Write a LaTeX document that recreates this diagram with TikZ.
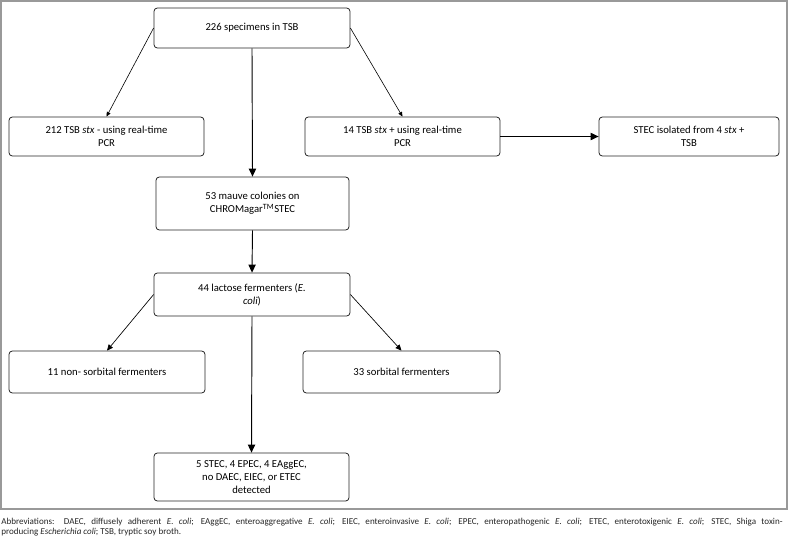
\documentclass[tikz,border=0pt]{standalone}
\usepackage{fontspec}
\setmainfont{Carlito}
\usetikzlibrary{arrows.meta}
\begin{document}
\begin{tikzpicture}[x=0.75pt,y=-0.75pt,
  box/.style={draw=black!85, line width=0.6pt, rounded corners=2.5pt, align=center,
    font=\fontsize{8}{10}\selectfont, inner sep=1pt},
  bigarrow/.style={line width=0.7pt, -{Triangle[length=6pt,width=5.5pt]}},
  smallarrow/.style={line width=0.45pt, -{Triangle[length=3.5pt,width=3pt]}},
  midarrow/.style={line width=0.5pt, -{Triangle[length=4.5pt,width=4pt]}},
  captxt/.style={anchor=base west, inner sep=0pt, font=\fontsize{6.8}{8}\selectfont, text=black!85}]
\useasboundingbox (0,0) rectangle (788,537);
\draw[black!40, line width=0.8pt] (1,1) rectangle (787,509);

\node[box, minimum width=147pt, minimum height=30pt] (top) at (252,28) {226 specimens in TSB};
\node[box, minimum width=146.25pt, minimum height=29.25pt] (neg) at (106.5,136.5) {212 TSB \textit{stx} - using real-time\\PCR};
\node[box, minimum width=146.25pt, minimum height=29.25pt] (pos) at (402.5,136.5) {14 TSB \textit{stx} + using real-time\\PCR};
\node[box, minimum width=135pt, minimum height=29.25pt] (iso) at (689,136.5) {STEC isolated from 4 \textit{stx} +\\TSB};
\node[box, minimum width=144.75pt, minimum height=39.75pt] (mauve) at (252.5,203.5) {53 mauve colonies on\\CHROMagar\textsuperscript{TM}STEC};
\node[box, minimum width=147pt, minimum height=32.25pt] (lac) at (252,294.5) {44 lactose fermenters (\textit{E.}\\\textit{coli})};
\node[box, minimum width=147pt, minimum height=31.5pt] (non) at (107,372) {11 non- sorbital fermenters};
\node[box, minimum width=147.75pt, minimum height=31.5pt] (sorb) at (401.5,372) {33 sorbital fermenters};
\node[box, minimum width=146.25pt, minimum height=36pt] (det) at (251.5,477) {5 STEC, 4 EPEC, 4 EAggEC,\\no DAEC, EIEC, or ETEC\\detected};

\draw[smallarrow] (top.west) -- (neg.north);
\draw[smallarrow] (top.east) -- (pos.north);
\draw[bigarrow] (top.south) -- (mauve.north);
\draw[bigarrow] (pos.east) -- (iso.west);
\draw[bigarrow] (mauve.south) -- (lac.north);
\draw[midarrow] (lac.west) -- (non.north);
\draw[midarrow] (lac.east) -- (sorb.north);
\draw[bigarrow] (lac.south) -- (det.north);

\node[captxt] (cap1) at (1,524) {\makebox[586pt][s]{Abbreviations: DAEC, diffusely adherent \textit{E. coli}; EAggEC, enteroaggregative \textit{E. coli}; EIEC, enteroinvasive \textit{E. coli}; EPEC, enteropathogenic \textit{E. coli}; ETEC, enterotoxigenic \textit{E. coli}; STEC, Shiga toxin-}};
\node[captxt] (cap2) at (1,534) {producing \textit{Escherichia coli}; TSB, tryptic soy broth.};
\end{tikzpicture}
\end{document}
